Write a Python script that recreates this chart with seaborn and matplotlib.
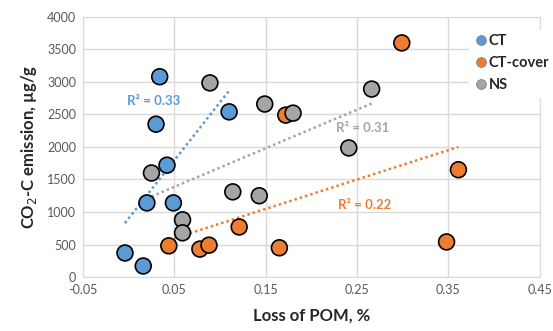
import numpy as np
import pandas as pd
import seaborn as sns
import matplotlib.pyplot as plt

# data
ct_x = [0.034, 0.030, 0.110, 0.042, 0.020, 0.049, -0.004, 0.016]
ct_y = [3080, 2350, 2540, 1720, 1140, 1140, 370, 170]
cover_x = [0.299, 0.172, 0.361, 0.348, 0.044, 0.078, 0.088, 0.121, 0.165]
cover_y = [3600, 2490, 1650, 540, 480, 430, 490, 770, 450]
ns_x = [0.089, 0.149, 0.180, 0.266, 0.241, 0.025, 0.059, 0.059, 0.114, 0.143]
ns_y = [2985, 2660, 2520, 2890, 1985, 1600, 880, 680, 1310, 1250]

groups = ['CT', 'CT-cover', 'NS']
colors = ['#5B9BD5', '#ED7D31', '#A5A5A5']
r2_labels = ['R² = 0.33', 'R² = 0.22', 'R² = 0.31']
r2_pos = [(-0.002, 2710), (0.229, 1110), (0.2265, 2290)]

df = pd.concat([
    pd.DataFrame({'x': ct_x, 'y': ct_y, 'group': 'CT'}),
    pd.DataFrame({'x': cover_x, 'y': cover_y, 'group': 'CT-cover'}),
    pd.DataFrame({'x': ns_x, 'y': ns_y, 'group': 'NS'}),
])

sns.set_style('white')
plt.rcParams['font.family'] = ['Lato', 'DejaVu Sans']

fig = plt.figure(figsize=(5.53, 3.31), dpi=100)
ax = fig.add_axes([0.150, 0.163, 0.826, 0.786])

# dotted trendlines
for g, c in zip(groups, colors):
    sub = df[df['group'] == g]
    sns.regplot(data=sub, x='x', y='y', ax=ax, scatter=False, ci=None,
                truncate=True, color=c,
                line_kws={'linestyle': (0, (1, 1.2)), 'linewidth': 1.8})

sns.scatterplot(data=df, x='x', y='y', hue='group', hue_order=groups,
                palette=colors, s=130, edgecolor='black', linewidth=1.2,
                ax=ax, zorder=3)

for lab, (tx, ty), c in zip(r2_labels, r2_pos, colors):
    ax.text(tx, ty, lab, color=c, fontsize=9.5, fontweight='bold', va='center')

ax.set_xlim(-0.05, 0.45)
ax.set_ylim(0, 4000)
ax.set_xticks([-0.05, 0.05, 0.15, 0.25, 0.35, 0.45])
ax.set_xticklabels(['-0.05', '0.05', '0.15', '0.25', '0.35', '0.45'])
ax.set_yticks(range(0, 4001, 500))
ax.grid(True, color='#D9D9D9', linewidth=1)
ax.set_axisbelow(True)
for s in ax.spines.values():
    s.set_color('#D9D9D9')
ax.tick_params(colors='#595959', labelsize=9, length=0, pad=5)

ax.set_xlabel('Loss of POM, %', fontsize=12, fontweight='bold', labelpad=8)
ax.set_ylabel('CO$_2$-C emission, µg/g', fontsize=12, fontweight='bold', labelpad=6)

handles, labels = ax.get_legend_handles_labels()
for h in handles:
    h.set_markersize(7)
    h.set_markeredgecolor('#7F7F7F')
    h.set_markeredgewidth(0.6)
ax.legend(handles, labels, loc='upper left', bbox_to_anchor=(0.845, 0.95),
          frameon=True, facecolor='white', edgecolor='white', framealpha=1,
          prop={'weight': 'bold', 'size': 10.5}, handletextpad=0.05,
          handlelength=1.0, labelspacing=0.55, borderpad=0.3,
          borderaxespad=0.0)

fig.savefig('out.png', dpi=100)
